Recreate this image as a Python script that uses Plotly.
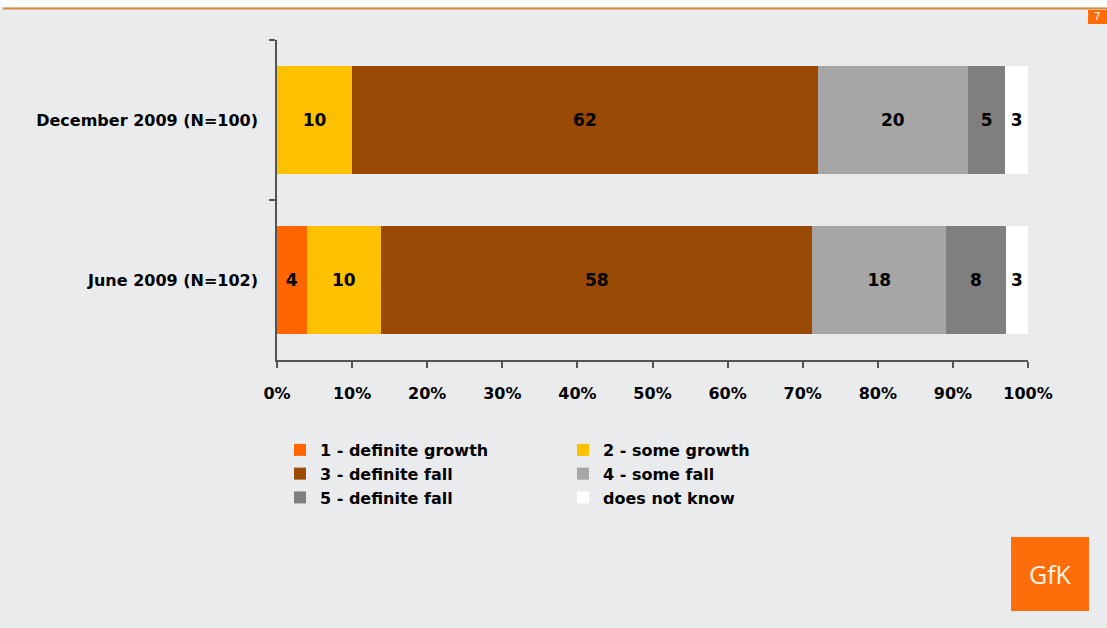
import plotly.graph_objects as go

categories = ["December 2009 (N=100)", "June 2009 (N=102)"]
series_names = ["1 - definite growth", "2 - some growth", "3 - definite fall",
                "4 - some fall", "5 - definite fall", "does not know"]
definite_growth = [None, 4]
some_growth = [10, 10]
definite_fall = [62, 58]
some_fall = [20, 18]
definite_fall_5 = [5, 8]
does_not_know = [3, 3]
series_values = [definite_growth, some_growth, definite_fall, some_fall, definite_fall_5, does_not_know]
colors = ["#ff6600", "#ffc000", "#994a05", "#a6a6a6", "#7f7f7f", "#ffffff"]
tick_vals = [0, 10, 20, 30, 40, 50, 60, 70, 80, 90, 100]
tick_text = ["0%", "10%", "20%", "30%", "40%", "50%", "60%", "70%", "80%", "90%", "100%"]

FONT = "DejaVu Sans"
BG = "#e9ebec"

fig = go.Figure()
for name, vals, col in zip(series_names, series_values, colors):
    fig.add_trace(go.Bar(
        y=categories, x=vals, name=name, orientation="h",
        marker=dict(color=col, line=dict(width=0)),
        text=["" if v is None else str(v) for v in vals],
        texttemplate="%{text}",
        textposition="inside", insidetextanchor="middle", textangle=0,
        textfont=dict(family=FONT, size=17, color="#000000", weight="bold"),
        width=0.67,
        hoverinfo="skip",
    ))

fig.update_layout(
    width=1107, height=628,
    barmode="stack", barnorm="percent",
    paper_bgcolor=BG, plot_bgcolor=BG,
    margin=dict(l=277, r=79, t=40, b=268, autoexpand=False),
    showlegend=True,
    legend=dict(
        orientation="h", x=0.004, xanchor="left", y=-0.228, yanchor="top",
        entrywidth=238, entrywidthmode="pixels",
        font=dict(family=FONT, size=16, color="#000000", weight="bold"),
        bgcolor="rgba(0,0,0,0)", traceorder="normal",
    ),
    font=dict(family=FONT, color="#000000"),
)

fig.update_xaxes(
    range=[0, 100], tickvals=tick_vals, ticktext=tick_text,
    showgrid=False, zeroline=False, showline=True, linecolor="#555555", linewidth=1.5,
    ticks="outside", ticklen=6, tickcolor="#555555", tickwidth=1.5,
    ticklabelstandoff=12,
    tickfont=dict(family=FONT, size=16, color="#000000", weight="bold"),
    fixedrange=True,
)
fig.update_yaxes(
    autorange="reversed", showgrid=False, zeroline=False,
    showline=True, linecolor="#555555", linewidth=1.5,
    ticks="outside", ticklen=6, tickcolor="#555555", tickwidth=1.5,
    tickson="boundaries", ticklabelstandoff=14,
    tickfont=dict(family=FONT, size=16, color="#000000", weight="bold"),
    fixedrange=True,
)

# decorative page frame: white top band, orange rule, page number, logo
fig.add_shape(type="rect", xref="paper", yref="paper", x0=-0.4, x1=1.2, y0=1.103, y1=1.2,
              fillcolor="#ffffff", line=dict(width=0), layer="below")
fig.add_shape(type="line", xref="paper", yref="paper", x0=-0.365, x1=1.2, y0=1.0984, y1=1.0984,
              line=dict(color="#d98a3a", width=2))
fig.add_shape(type="rect", xref="paper", yref="paper", x0=1.0799, x1=1.11, y0=1.05, y1=1.0938,
              fillcolor="#ff6d0a", line=dict(width=0))
fig.add_annotation(xref="paper", yref="paper", x=1.0925, y=1.072, text="7", showarrow=False,
                   xanchor="center", yanchor="middle",
                   font=dict(family=FONT, size=10, color="#ffffff"))
fig.add_shape(type="rect", xref="paper", yref="paper", x0=0.9774, x1=1.0812, y0=-0.7844, y1=-0.5531,
              fillcolor="#ff6d0a", line=dict(width=0))
fig.add_annotation(xref="paper", yref="paper", x=1.0293, y=-0.66875, text="GfK", showarrow=False,
                   xanchor="center", yanchor="middle",
                   font=dict(family="Open Sans", size=25, color="#fff6e8"))

fig.write_html("out.html")
